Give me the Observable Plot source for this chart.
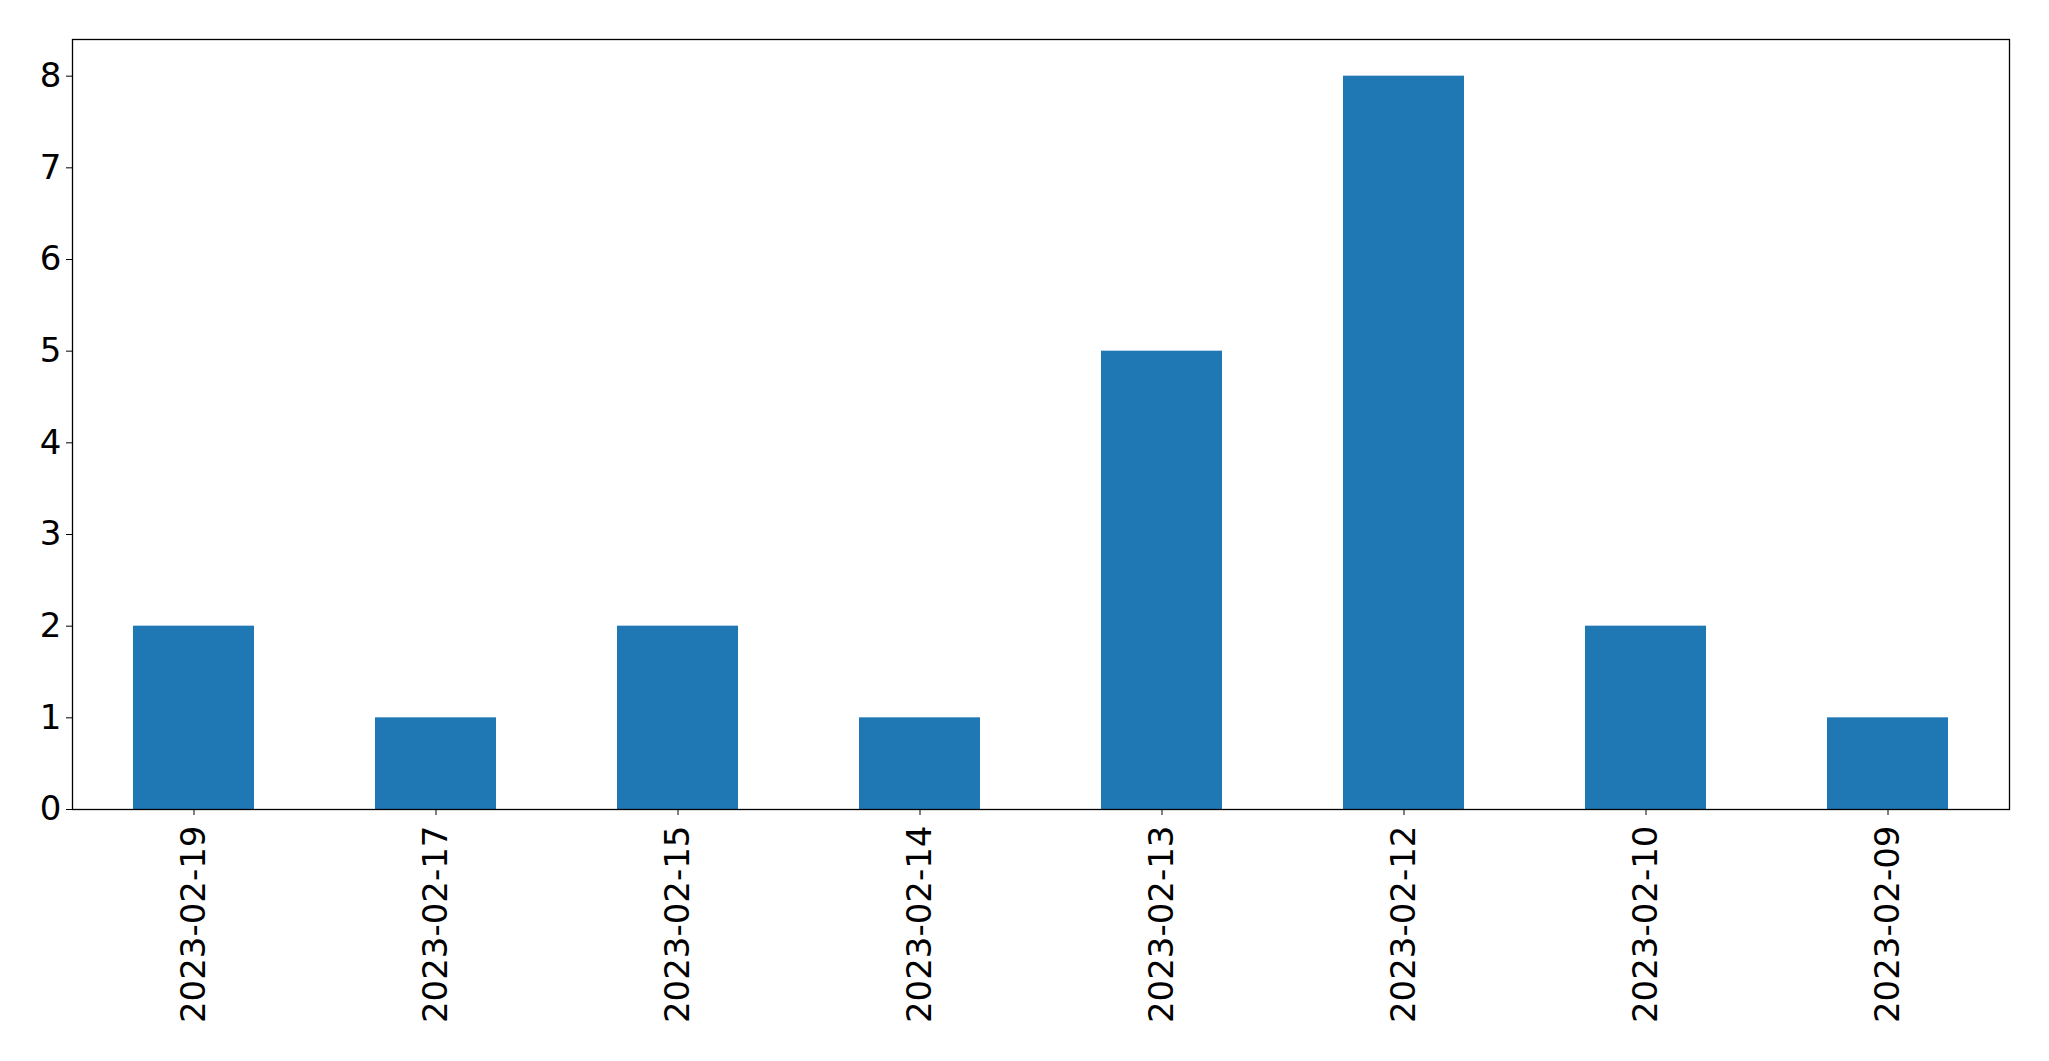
<!DOCTYPE html>
<html>
<head>
<meta charset="utf-8">
<script src="https://cdn.jsdelivr.net/npm/d3@7"></script>
<script src="https://cdn.jsdelivr.net/npm/@observablehq/plot@0.6"></script>
<style>
  html, body { margin: 0; padding: 0; background: #fff; }
  svg { display: block; }
</style>
</head>
<body>
<div id="chart"></div>
<script>
const dates = ["2023-02-19", "2023-02-17", "2023-02-15", "2023-02-14", "2023-02-13", "2023-02-12", "2023-02-10", "2023-02-09"];
const counts = [2, 1, 2, 1, 5, 8, 2, 1];
const yTicks = [0, 1, 2, 3, 4, 5, 6, 7, 8];

const data = dates.map((d, i) => ({date: d, count: counts[i]}));

const chart = Plot.plot({
  width: 2049,
  height: 1061,
  marginLeft: 72,
  marginRight: 40,
  marginTop: 39,
  marginBottom: 252,
  style: {fontFamily: "DejaVu Sans", fontSize: "34px", color: "#000", background: "#fff"},
  x: {domain: dates, paddingInner: 0.5, paddingOuter: 0.25, label: null},
  y: {domain: [0, 8.4], label: null},
  marks: [
    Plot.barY(data, {x: "date", y: "count", fill: "#1f77b4"}),
    Plot.frame({stroke: "#000", strokeWidth: 1.3}),
    Plot.axisY({ticks: yTicks, tickSize: 6, tickPadding: 5, fontSize: 34, tickFormat: d3.format("d"), label: null}),
    Plot.axisX({tickSize: 6, tickPadding: 10, tickRotate: -90, fontSize: 34, label: null})
  ]
});
document.getElementById("chart").appendChild(chart);
</script>
</body>
</html>
